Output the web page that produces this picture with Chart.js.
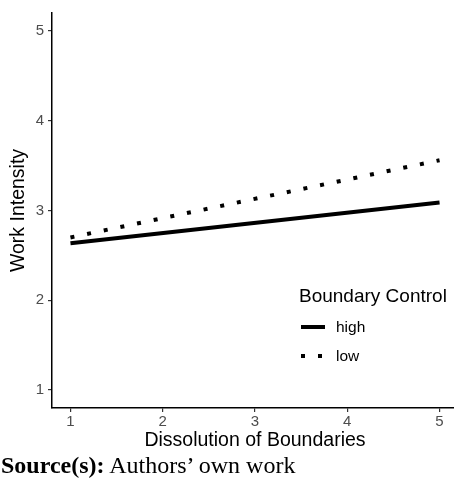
<!DOCTYPE html>
<html>
<head>
<meta charset="utf-8">
<script src="https://cdn.jsdelivr.net/npm/chart.js@4.4.1/dist/chart.umd.min.js"></script>
<style>
  html,body{margin:0;padding:0;background:#fff;overflow:hidden;width:454px;height:483px;}
  #wrap{position:relative;width:458px;height:452px;}
  #src{position:absolute;left:1px;top:451px;font-family:"Liberation Serif","Times New Roman",serif;font-size:24px;line-height:28px;color:#000;white-space:nowrap;}
</style>
</head>
<body>
<div id="wrap"><canvas id="c" width="458" height="452"></canvas></div>
<div id="src"><b>Source(s):</b> Authors’ own work</div>
<script>
const xValues = [1, 5];
const highValues = [2.635, 3.09];
const lowValues = [2.70, 3.56];
const seriesNames = ['high', 'low'];
const xTicks = [1, 2, 3, 4, 5];
const yTicks = [1, 2, 3, 4, 5];

const sans = '"Liberation Sans", Arial, sans-serif';

const legendPlugin = {
  id: 'boxLegend',
  afterDatasetsDraw(chart){
    const ctx = chart.ctx;
    ctx.save();
    ctx.fillStyle = '#000';
    ctx.font = '19px ' + sans;
    ctx.textBaseline = 'middle';
    ctx.fillText('Boundary Control', 299, 297);
    ctx.font = '15.5px ' + sans;
    chart.data.datasets.forEach((ds, i) => {
      const y = 327 + i * 29;
      ctx.strokeStyle = '#000';
      ctx.lineWidth = ds.borderWidth;
      ctx.setLineDash(ds.borderDash || []);
      ctx.lineCap = 'butt';
      ctx.beginPath(); ctx.moveTo(301, y); ctx.lineTo(325, y); ctx.stroke();
      ctx.setLineDash([]);
      ctx.fillText(ds.label, 336, y + 1);
    });
    ctx.restore();
  }
};

new Chart(document.getElementById('c'), {
  type: 'line',
  data: {
    datasets: [
      {label: seriesNames[0], data: xValues.map((x,i)=>({x, y: highValues[i]})), borderColor:'#000', borderWidth:4, pointRadius:0, borderCapStyle:'butt'},
      {label: seriesNames[1], data: xValues.map((x,i)=>({x, y: lowValues[i]})), borderColor:'#000', borderWidth:4, borderDash:[4,13], pointRadius:0, borderCapStyle:'butt'}
    ]
  },
  options: {
    responsive: false,
    animation: false,
    layout: {padding: {top: 10, right: 0, left: 0, bottom: 0}},
    plugins: {legend: {display: false}, tooltip: {enabled: false}},
    scales: {
      x: {
        type: 'linear', min: 0.8, max: 5.2,
        afterBuildTicks: s => { s.ticks = xTicks.map(v => ({value: v})); },
        afterFit: s => { s.height = 44; },
        grid: {drawOnChartArea: false, drawTicks: true, tickLength: 4, color: '#333', lineWidth: 1.2},
        border: {display: true, color: '#000', width: 1.5},
        ticks: {color: '#4d4d4d', font: {size: 15, family: sans}, padding: 1, maxRotation: 0},
        title: {display: true, text: 'Dissolution of Boundaries', color: '#000', font: {size: 19.5, family: sans}, padding: {top: 0, bottom: 0}}
      },
      y: {
        type: 'linear', min: 0.8, max: 5.2,
        afterBuildTicks: s => { s.ticks = yTicks.map(v => ({value: v})); },
        afterFit: s => { s.width = 52; },
        grid: {drawOnChartArea: false, drawTicks: true, tickLength: 4, color: '#333', lineWidth: 1.2},
        border: {display: true, color: '#000', width: 1.5},
        ticks: {color: '#4d4d4d', font: {size: 15, family: sans}, padding: 4},
        title: {display: true, text: 'Work Intensity', color: '#000', font: {size: 19.5, family: sans}, padding: {top: 7, bottom: 2}}
      }
    }
  },
  plugins: [legendPlugin]
});
</script>
</body>
</html>
